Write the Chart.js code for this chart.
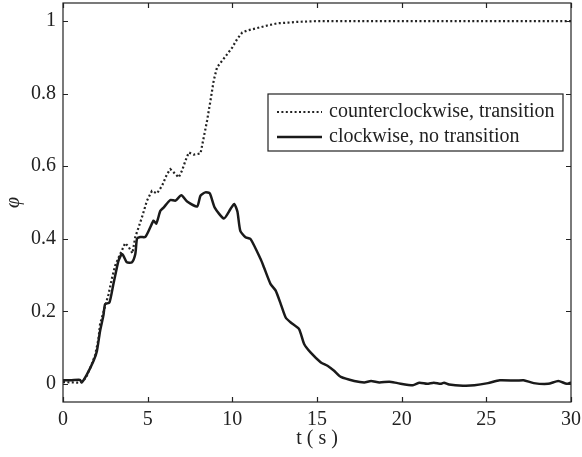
<!DOCTYPE html>
<html>
<head>
<meta charset="utf-8">
<script src="https://cdn.jsdelivr.net/npm/chart.js@4.4.1/dist/chart.umd.min.js"></script>
<style>
  html, body { margin: 0; padding: 0; background: #fff; }
  #wrap { width: 582px; height: 457px; position: relative; }
</style>
</head>
<body>
<div id="wrap"><canvas id="chart"></canvas></div>
<script>
// phi vs time

var seriesLabels = ['counterclockwise, transition', 'clockwise, no transition'];

// counterclockwise (dotted)
var ccwT = [0, 0.5, 1.0, 1.2, 1.4, 1.7, 1.9, 2.09, 2.19, 2.49, 2.69, 2.88, 3.08, 3.3, 3.5, 3.67, 3.87, 4.1,
  4.27, 4.46, 4.66, 4.96, 5.25, 5.55, 5.85, 6.14, 6.34, 6.54, 6.83, 7.03, 7.23, 7.43, 7.72, 8.12, 8.31, 8.51,
  8.71, 8.9, 9.1, 9.4, 9.7, 9.99, 10.29, 10.59, 10.88, 11.47, 12.07, 12.66, 13.3, 13.85, 15, 20, 25, 30];
var ccwPhi = [0.005, 0.004, 0.003, 0.008, 0.022, 0.054, 0.08, 0.123, 0.165, 0.215, 0.247, 0.289, 0.326, 0.35, 0.37, 0.388, 0.378, 0.36,
  0.405, 0.431, 0.459, 0.505, 0.532, 0.525, 0.546, 0.578, 0.592, 0.583, 0.569, 0.588, 0.615, 0.638, 0.632, 0.635, 0.679, 0.726,
  0.781, 0.836, 0.873, 0.891, 0.909, 0.927, 0.951, 0.969, 0.974, 0.981, 0.988, 0.994, 0.996, 0.998, 1.0, 1.0, 1.0, 1.0];

// clockwise (solid)
var cwT = [0, 0.5, 1.0, 1.1, 1.4, 1.8, 2.0, 2.19, 2.39, 2.49, 2.74, 2.98, 3.18, 3.28, 3.48, 3.57, 3.77, 4.07, 4.27,
  4.37, 4.56, 4.86, 5.15, 5.35, 5.51, 5.75, 5.94, 6.34, 6.64, 6.99, 7.33, 7.92, 8.12, 8.41, 8.67, 8.96, 9.5, 9.89,
  10.11, 10.3, 10.47, 10.78, 11.08, 11.67, 11.87, 12.26, 12.56, 12.86, 13.15, 13.45, 13.94, 14.24, 14.63, 15.23,
  15.62, 16.01, 16.41, 17.2, 17.79, 18.19, 18.68, 19.27, 19.76, 20.66, 21.05, 21.5, 21.9, 22.3, 22.5, 22.8, 23.62,
  24.3, 25.1, 25.79, 26.78, 27.2, 27.8, 28.65, 29.25, 29.75, 30];
var cwPhi = [0.01, 0.01, 0.011, 0.004, 0.025, 0.063, 0.09, 0.146, 0.19, 0.22, 0.224, 0.276, 0.32, 0.34, 0.358, 0.353, 0.335, 0.335, 0.358,
  0.40, 0.405, 0.405, 0.431, 0.45, 0.442, 0.477, 0.486, 0.507, 0.505, 0.52, 0.503, 0.489, 0.519, 0.528, 0.525, 0.486, 0.456, 0.482,
  0.496, 0.475, 0.422, 0.404, 0.399, 0.344, 0.321, 0.275, 0.257, 0.22, 0.183, 0.169, 0.151, 0.11, 0.086, 0.059,
  0.05, 0.036, 0.019, 0.008, 0.004, 0.008, 0.004, 0.006, 0.002, -0.004, 0.003, 0, 0.003, 0, 0.003, -0.002, -0.005,
  -0.004, 0.002, 0.01, 0.009, 0.01, 0.002, 0, 0.008, 0, 0.004];

var xTicks = [0, 5, 10, 15, 20, 25, 30];
var yTicks = [0, 0.2, 0.4, 0.6, 0.8, 1];

var INK = '#222';
var FONT = '"Liberation Serif", "Times New Roman", serif';

function pairs(xs, ys) {
  return xs.map(function(x, i) { return { x: x, y: ys[i] }; });
}

// frame + inward ticks on all four sides (matlab look)
var framePlugin = {
  id: 'frame',
  afterDatasetsDraw: function(chart) {
    var ctx = chart.ctx, a = chart.chartArea;
    var xs = chart.scales.x, ys = chart.scales.y;
    var len = 5;
    ctx.save();
    ctx.strokeStyle = INK;
    ctx.lineWidth = 1.2;
    ctx.strokeRect(a.left, a.top, a.right - a.left, a.bottom - a.top);
    ctx.beginPath();
    xTicks.forEach(function(v) {
      var px = Math.round(xs.getPixelForValue(v)) + 0.5;
      ctx.moveTo(px, a.bottom); ctx.lineTo(px, a.bottom - len);
      ctx.moveTo(px, a.top); ctx.lineTo(px, a.top + len);
    });
    yTicks.forEach(function(v) {
      var py = Math.round(ys.getPixelForValue(v)) + 0.5;
      ctx.moveTo(a.left, py); ctx.lineTo(a.left + len, py);
      ctx.moveTo(a.right, py); ctx.lineTo(a.right - len, py);
    });
    ctx.stroke();
    ctx.restore();
  }
};

// boxed legend inside the plot, upper right
var legendPlugin = {
  id: 'boxLegend',
  afterDraw: function(chart) {
    var ctx = chart.ctx, a = chart.chartArea;
    var box = { left: a.left + 205, top: a.top + 91, right: a.right - 8, bottom: a.top + 148 };
    var rows = [box.top + 18, box.top + 43];
    ctx.save();
    ctx.fillStyle = '#fff';
    ctx.fillRect(box.left, box.top, box.right - box.left, box.bottom - box.top);
    ctx.strokeStyle = INK;
    ctx.lineWidth = 1.2;
    ctx.strokeRect(box.left, box.top, box.right - box.left, box.bottom - box.top);
    chart.data.datasets.forEach(function(ds, i) {
      var y = rows[i];
      ctx.beginPath();
      ctx.strokeStyle = ds.borderColor;
      ctx.lineWidth = ds.borderWidth;
      ctx.setLineDash(ds.borderDash || []);
      ctx.moveTo(box.left + 9, y);
      ctx.lineTo(box.left + 54, y);
      ctx.stroke();
      ctx.setLineDash([]);
      ctx.fillStyle = INK;
      ctx.font = '20px ' + FONT;
      ctx.textBaseline = 'middle';
      ctx.textAlign = 'left';
      ctx.fillText(ds.label, box.left + 61, y);
    });
    ctx.restore();
  }
};

new Chart(document.getElementById('chart'), {
  type: 'line',
  data: {
    datasets: [
      {
        label: seriesLabels[0],
        data: pairs(ccwT, ccwPhi),
        borderColor: INK,
        borderWidth: 2.2,
        borderDash: [2, 2.4],
        pointRadius: 0,
        tension: 0,
        fill: false
      },
      {
        label: seriesLabels[1],
        data: pairs(cwT, cwPhi),
        borderColor: '#1a1a1a',
        borderWidth: 2.5,
        pointRadius: 0,
        tension: 0.2,
        fill: false
      }
    ]
  },
  options: {
    responsive: true,
    maintainAspectRatio: false,
    animation: false,
    layout: { padding: { top: 3, right: 11, left: 0, bottom: 0 } },
    plugins: {
      legend: { display: false },
      tooltip: { enabled: false }
    },
    scales: {
      x: {
        type: 'linear',
        min: 0,
        max: 30,
        afterBuildTicks: function(s) { s.ticks = xTicks.map(function(v) { return { value: v }; }); },
        afterFit: function(s) { s.height = 55; s.paddingLeft = 0; s.paddingRight = 0; },
        grid: { display: false, drawTicks: false },
        border: { display: false },
        ticks: {
          color: INK,
          font: { family: FONT, size: 20 },
          padding: 6,
          maxRotation: 0,
          autoSkip: false
        },
        title: {
          display: true,
          text: 't ( s )',
          color: INK,
          font: { family: FONT, size: 20 },
          padding: { top: 0, bottom: 6 }
        }
      },
      y: {
        type: 'linear',
        min: -0.05,
        max: 1.05,
        afterBuildTicks: function(s) { s.ticks = yTicks.map(function(v) { return { value: v }; }); },
        afterFit: function(s) { s.width = 63; s.paddingTop = 0; s.paddingBottom = 0; },
        grid: { display: false, drawTicks: false },
        border: { display: false },
        ticks: {
          color: INK,
          font: { family: FONT, size: 20 },
          padding: 7,
          callback: function(v) { return String(Math.round(v * 10) / 10); }
        },
        title: {
          display: true,
          text: 'φ',
          color: INK,
          font: { family: FONT, size: 20, style: 'italic' },
          padding: { top: 2, bottom: 0 }
        }
      }
    }
  },
  plugins: [framePlugin, legendPlugin]
});
</script>
</body>
</html>
